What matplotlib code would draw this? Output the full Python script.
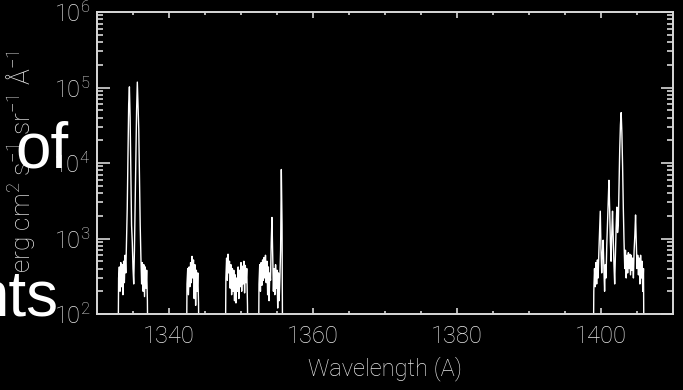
import numpy as np
import matplotlib
matplotlib.use("Agg")
import matplotlib.pyplot as plt
from matplotlib.ticker import FixedLocator, LogLocator, NullFormatter

plt.rcParams['mathtext.fontset'] = 'custom'
plt.rcParams['mathtext.rm'] = 'Roboto:light'
plt.rcParams['mathtext.it'] = 'Roboto:light'
plt.rcParams['mathtext.bf'] = 'Roboto:light'

STEP = 0.1  # spectral sampling (Angstrom)

# C II 1334/1335 window
start_cii = 1333.0
flux_cii = [300, 420, 200, 480, 230, 450, 180, 500, 260, 600, 350, 900,
            2500, 12000, 60000, 102000, 40000, 8000, 1500, 900, 400, 250,
            700, 3000, 15000, 50000, 118000, 60000, 28000, 6000, 1500, 550,
            250, 480, 200, 450, 170, 420, 220, 380, 150]

# continuum window near 1343
start_b = 1342.5
flux_b = [250, 400, 180, 420, 230, 480, 260, 580, 300, 520, 160, 450,
          130, 380, 200, 350, 140]

# continuum window near 1349
start_c = 1347.9
flux_c = [300, 550, 280, 620, 350, 500, 220, 450, 180, 400, 200, 380,
          150, 330, 140, 300, 200, 420, 160, 380, 230, 480, 200, 430,
          250, 500, 190, 440, 260, 400, 130]

# Fe XII / O I window near 1354-1356
start_d = 1352.5
flux_d = [250, 450, 200, 480, 240, 520, 280, 560, 300, 600, 260, 500,
          180, 420, 150, 350, 280, 900, 1900, 600, 200, 400, 180, 450,
          220, 380, 120, 350, 150, 300, 700, 8200, 1500]

# Si IV / O IV window near 1400-1406
start_e = 1399.0
flux_e = [200, 400, 230, 480, 250, 520, 300, 650, 1200, 2300, 700, 350,
          650, 950, 400, 200, 450, 300, 800, 1500, 3000, 5900, 2500, 900,
          500, 1200, 2300, 1000, 450, 250, 600, 1400, 2600, 1200, 1500,
          4500, 15000, 32000, 46500, 25000, 9000, 2500, 900, 400, 700,
          300, 600, 350, 650, 400, 620, 330, 600, 380, 550, 300, 700,
          1100, 2050, 900, 400, 600, 330, 550, 250, 600, 300, 500, 200, 400]

FLOOR = 10.0  # off-window level (below the plotted range)

windows = [(start_cii, flux_cii), (start_b, flux_b), (start_c, flux_c),
           (start_d, flux_d), (start_e, flux_e)]

wave, flux = [1330.0], [FLOOR]
for w0, f in windows:
    w = w0 + STEP * np.arange(len(f))
    wave += [w0 - STEP] + list(w) + [w[-1] + STEP]
    flux += [FLOOR] + list(f) + [FLOOR]
wave.append(1410.0)
flux.append(FLOOR)

fig = plt.figure(figsize=(6.83, 3.90), dpi=100, facecolor='black')
ax = fig.add_axes([97 / 683, 76 / 390, 576 / 683, 302 / 390])
ax.set_facecolor('black')

ax.plot(wave, flux, color='white', lw=1.0)

ax.set_yscale('log')
ax.set_xlim(1330, 1410)
ax.set_ylim(1e2, 1e6)

spine_col = '#d8d8d8'
for s in ax.spines.values():
    s.set_color(spine_col)
    s.set_linewidth(1.4)

ax.xaxis.set_major_locator(FixedLocator([1340, 1360, 1380, 1400]))
ax.xaxis.set_minor_locator(FixedLocator(np.arange(1335, 1410, 5)))
ax.yaxis.set_major_locator(LogLocator(base=10, numticks=10))
ax.yaxis.set_minor_locator(LogLocator(base=10, subs=np.arange(2, 10), numticks=20))
ax.yaxis.set_minor_formatter(NullFormatter())

tick_font = dict(family='Roboto', weight='light', size=17)
ax.tick_params(axis='both', which='both', direction='in', colors=spine_col,
               top=True, right=True, width=1.2)
ax.tick_params(axis='x', which='major', length=4.5, pad=8)
ax.tick_params(axis='x', which='minor', length=2.3)
ax.tick_params(axis='y', which='major', length=9, pad=5)
ax.tick_params(axis='y', which='minor', length=4.5)

ax.set_xticks([1340, 1360, 1380, 1400])
ax.set_xticklabels(['1340', '1360', '1380', '1400'], **tick_font, color='#e6e6e6')
yt = [1e2, 1e3, 1e4, 1e5, 1e6]
ax.set_yticks(yt)
ax.set_yticklabels([r'$10^{%d}$' % int(np.log10(v)) for v in yt],
                   fontsize=17, color='#e6e6e6')

ax.set_xlabel('Wavelength (A)', family='Roboto', weight='light', fontsize=17,
              color='#e6e6e6', labelpad=6)
ax.set_ylabel(r'erg cm$^2$ s$^{-1}$ sr$^{-1}$ Å$^{-1}$', family='Roboto',
              weight='light', fontsize=19, color='#e6e6e6')
ax.yaxis.set_label_coords(-0.105, 0.505)

fig.text(15 / 683, 1 - 167 / 390, 'of', family='Liberation Sans', fontsize=46,
         color='white', ha='left', va='baseline')
fig.text(59 / 683, 1 - 315 / 390, 'nts', family='Liberation Sans', fontsize=46,
         color='white', ha='right', va='baseline')

fig.savefig('out.png', dpi=100, facecolor='black')
